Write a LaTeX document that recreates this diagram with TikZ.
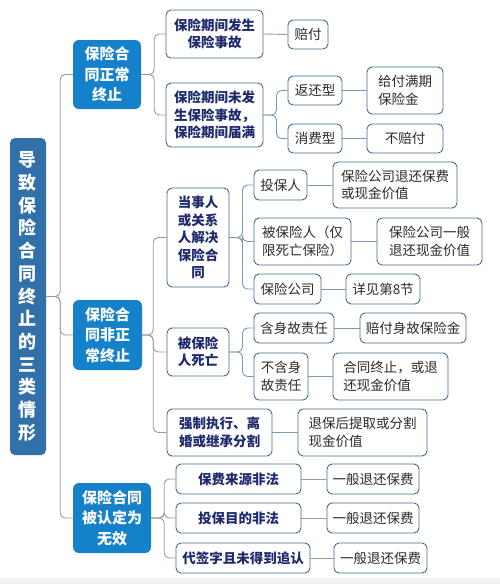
\documentclass[tikz,border=0pt]{standalone}
\usepackage{fontspec}
\setmainfont{Noto Sans CJK SC}
\definecolor{rootblue}{HTML}{3170A8}
\definecolor{lblue}{HTML}{1681CB}
\definecolor{bordc}{HTML}{45698F}
\definecolor{navy}{HTML}{1F2A6E}
\definecolor{leaftext}{HTML}{2B2B2B}
\definecolor{linegray}{HTML}{9A9A9A}
\definecolor{lineblue}{HTML}{7E97B2}
\tikzset{
  box/.style={draw=bordc, line width=0.9pt, rounded corners=5pt, fill=white, inner sep=0pt,
    font=\fontsize{13.5}{17.5}\selectfont, text=leaftext, align=left},
  bbox/.style={box, font=\fontsize{13.5}{17.5}\selectfont\bfseries, text=navy, align=center},
  lone/.style={fill=lblue, rounded corners=6pt, inner sep=0pt, text=white,
    font=\fontsize{15}{20.5}\selectfont\bfseries, align=center},
  rootbox/.style={fill=rootblue, rounded corners=5pt, inner sep=0pt, text=white,
    font=\fontsize{18}{22.7}\selectfont\bfseries, align=center},
  conn/.style={draw=linegray, line width=0.9pt, rounded corners=5pt},
  connb/.style={draw=lineblue, line width=0.9pt, rounded corners=5pt},
}
\newcommand{\bx}[6]{\node[#1, minimum width=#4, minimum height=#5] (#2) at (#3) {#6};}
\begin{document}
\begin{tikzpicture}[x=1pt,y=-1pt]
\useasboundingbox (0,0) rectangle (500,584);
\fill[white] (0,0) rectangle (500,584);
\fill[black!5] (0,578) rectangle (500,584);
% root
\bx{rootbox}{root}{28,296.5}{36}{317}{导\\致\\保\\险\\合\\同\\终\\止\\的\\三\\类\\情\\形}
% level 1
\bx{lone}{A}{107,74.5}{68}{69}{保险合\\同正常\\终止}
\bx{lone}{B}{107.5,335}{69}{70}{保险合\\同非正\\常终止}
\bx{lone}{C}{112,518}{78}{70}{保险合同\\被认定为\\无效}
% A branch
\bx{bbox}{A1}{214.5,34}{97}{48}{保险期间发生\\保险事故}
\bx{bbox}{A2}{214.5,115}{97}{64}{保险期间未发\\生保险事故，\\保险期间届满}
\bx{box}{a11}{308,34.5}{40}{29}{赔付}
\bx{box}{a21}{315,90.5}{54}{29}{返还型}
\bx{box}{a22}{315,138.5}{54}{29}{消费型}
\bx{box}{a211}{405,90.5}{76}{47}{给付满期\\保险金}
\bx{box}{a221}{405,138.5}{76}{29}{不赔付}
% B branch
\bx{bbox}{B1}{198,237.5}{62}{99}{当事人\\或关系\\人解决\\保险合\\同}
\bx{bbox}{B2}{198,352}{62}{48}{被保险\\人死亡}
\bx{bbox}{B3}{219.5,432.5}{105}{47}{强制执行、离\\婚或继承分割}
\bx{box}{b11}{280.5,185}{53}{30}{投保人}
\bx{box}{b12}{302.5,241.5}{97}{47}{被保险人（仅\\限死亡保险）}
\bx{box}{b13}{287.5,289}{67}{30}{保险公司}
\bx{box}{b111}{395,185}{124}{46}{保险公司退还保费\\或现金价值}
\bx{box}{b121}{429.5,241.5}{105}{47}{保险公司一般\\退还现金价值}
\bx{box}{b131}{383,289}{74}{30}{详见第8节}
\bx{box}{b21}{294,328}{80}{30}{含身故责任}
\bx{box}{b22}{281,376.5}{54}{47}{不含身\\故责任}
\bx{box}{b211}{413,328}{106}{30}{赔付身故保险金}
\bx{box}{b221}{390.5,376.5}{115}{47}{合同终止，或退\\还现金价值}
\bx{box}{b31}{362.5,432.5}{129}{47}{退保后提取或分割\\现金价值}
% C branch
\bx{bbox}{C1}{238.5,479}{125}{30}{保费来源非法}
\bx{bbox}{C2}{238.5,518}{125}{30}{投保目的非法}
\bx{bbox}{C3}{243,558}{134}{30}{代签字且未得到追认}
\bx{box}{c11}{373,479}{92}{30}{一般退还保费}
\bx{box}{c21}{373,518}{92}{30}{一般退还保费}
\bx{box}{c31}{380.5,558}{93}{30}{一般退还保费}
% connectors
\foreach \c in {A,B,C} \draw[conn] (root.east) -- ++(14,0) |- (\c.west);
\foreach \c in {A1,A2} \draw[conn] (A.east) -- ++(13,0) |- (\c.west);
\foreach \c in {B1,B2,B3} \draw[conn] (B.east) -- ++(11,0) |- (\c.west);
\foreach \c in {C1,C2,C3} \draw[conn] (C.east) -- ++(13,0) |- (\c.west);
\draw[conn] (A1.east) -- (a11.west);
\foreach \c in {a21,a22} \draw[connb] (A2.east) -- ++(13,0) |- (\c.west);
\draw[connb] (a21.east) -- (a211.west);
\draw[connb] (a22.east) -- (a221.west);
\foreach \c in {b11,b12,b13} \draw[connb] (B1.east) -- ++(13,0) |- (\c.west);
\foreach \c in {b21,b22} \draw[connb] (B2.east) -- ++(13,0) |- (\c.west);
\draw[connb] (b11.east) -- (b111.west);
\draw[connb] (b12.east) -- (b121.west);
\draw[connb] (b13.east) -- (b131.west);
\draw[connb] (b21.east) -- (b211.west);
\draw[connb] (b22.east) -- (b221.west);
\draw[connb] (B3.east) -- (b31.west);
\draw[conn] (C1.east) -- (c11.west);
\draw[conn] (C2.east) -- (c21.west);
\draw[conn] (C3.east) -- (c31.west);
\end{tikzpicture}
\end{document}
